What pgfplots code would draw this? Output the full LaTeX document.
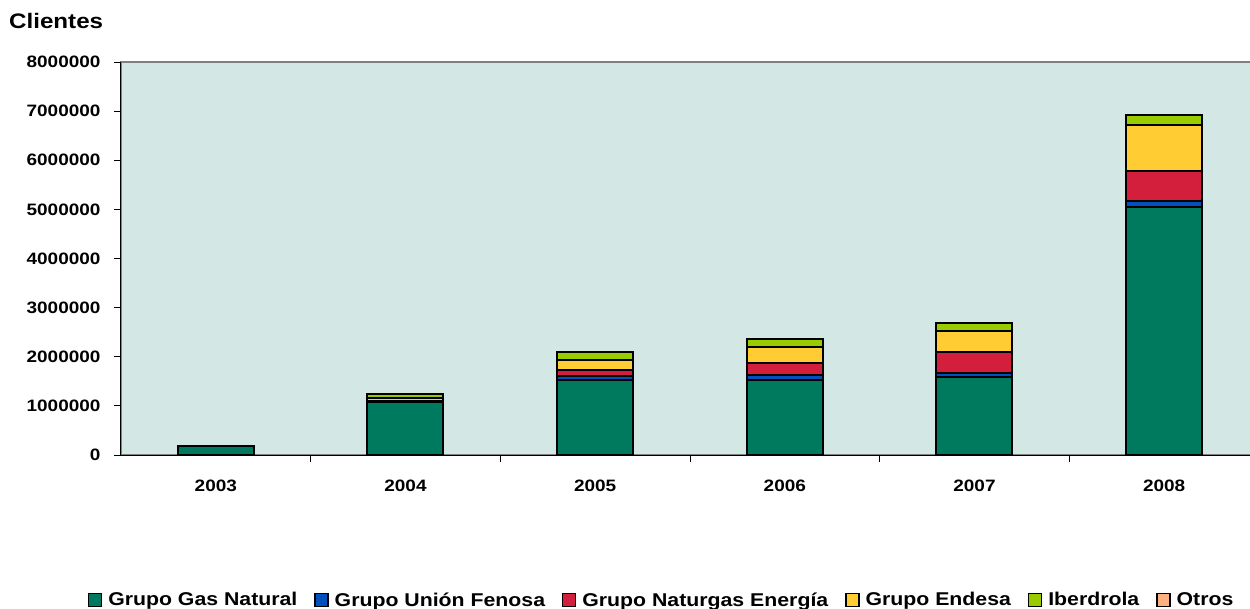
\documentclass[border=0pt]{standalone}
\usepackage{fontspec}
\setmainfont[FakeStretch=1.15]{Liberation Sans}
\usepackage{pgfplots}
\pgfplotsset{compat=1.18}
\definecolor{cGas}{HTML}{007A5E}
\definecolor{cFenosa}{HTML}{0050BE}
\definecolor{cNaturgas}{HTML}{D41F3C}
\definecolor{cEndesa}{HTML}{FFCC33}
\definecolor{cIberdrola}{HTML}{99CC00}
\definecolor{cOtros}{HTML}{FFB080}
\definecolor{cBg}{HTML}{D3E7E4}

\begin{document}
\begin{tikzpicture}
\begin{axis}[
  width=1138bp, height=393bp, scale only axis,
  ybar stacked, bar width=76bp,
  xmin=-0.5, xmax=5.5, ymin=0, ymax=8000000,
  axis background/.style={fill=cBg, draw=gray, line width=1.2bp},
  axis lines*=left,
  axis line style={black, line width=1bp},
  xtick={0,1,2,3,4,5}, xticklabels={2003,2004,2005,2006,2007,2008},
  major x tick style={draw=none},
  minor xtick={0.5,1.5,2.5,3.5,4.5},
  minor x tick style={black, line width=0.8bp},
  minor tick length=7bp,
  ytick={0,1000000,2000000,3000000,4000000,5000000,6000000,7000000,8000000},
  y tick style={black, line width=0.8bp},
  major tick length=7bp,
  tick align=outside,
  scaled y ticks=false,
  /pgf/number format/assume math mode=true,
  yticklabel={\pgfmathprintnumber[fixed,precision=0,1000 sep={}]{\tick}},
  tick label style={font=\fontsize{16.5bp}{18bp}\selectfont\bfseries},
  xticklabel style={yshift=-14bp},
  yticklabel style={xshift=-10bp},
  legend columns=6,
  legend style={at={(0.476,-0.369)}, anchor=center, draw=none, fill=none,
    font=\fontsize{18.5bp}{20bp}\selectfont\bfseries,
    nodes={inner xsep=4bp, inner ysep=0bp},
    /tikz/every odd column/.append style={column sep=2bp},
    /tikz/every even column/.append style={column sep=13bp}},
  legend image code/.code={\draw[#1, draw=black, line width=1.3bp] (0bp,-6.5bp) rectangle (13bp,6.5bp);},
]
\addplot[draw=black, line width=2bp, fill=cGas] coordinates {(0,175000) (1,1070000) (2,1520000) (3,1534000) (4,1580000) (5,5043000)};
\addplot[draw=black, line width=2bp, fill=cFenosa] coordinates {(0,0) (1,15000) (2,95000) (3,100000) (4,90000) (5,122000)};
\addplot[draw=black, line width=2bp, fill=cNaturgas] coordinates {(0,0) (1,20000) (2,108000) (3,245000) (4,428000) (5,611000)};
\addplot[draw=black, line width=2bp, fill=cEndesa] coordinates {(0,0) (1,60000) (2,204000) (3,320000) (4,434000) (5,945000)};
\addplot[draw=black, line width=2bp, fill=cIberdrola] coordinates {(0,0) (1,70000) (2,163000) (3,155000) (4,162000) (5,190000)};
\addplot[draw=black, line width=2bp, fill=cOtros] coordinates {(0,0) (1,0) (2,0) (3,0) (4,0) (5,0)};
\legend{Grupo Gas Natural, Grupo Unión Fenosa, Grupo Naturgas Energía, Grupo Endesa, Iberdrola, Otros}
\end{axis}
\node[anchor=north west, inner sep=0pt, font=\fontsize{21bp}{24bp}\selectfont\bfseries] at (-112bp,442bp) {Clientes};
\pgfresetboundingbox
\path (-121bp,-154bp) rectangle (1129bp,455bp);
\end{tikzpicture}
\end{document}
